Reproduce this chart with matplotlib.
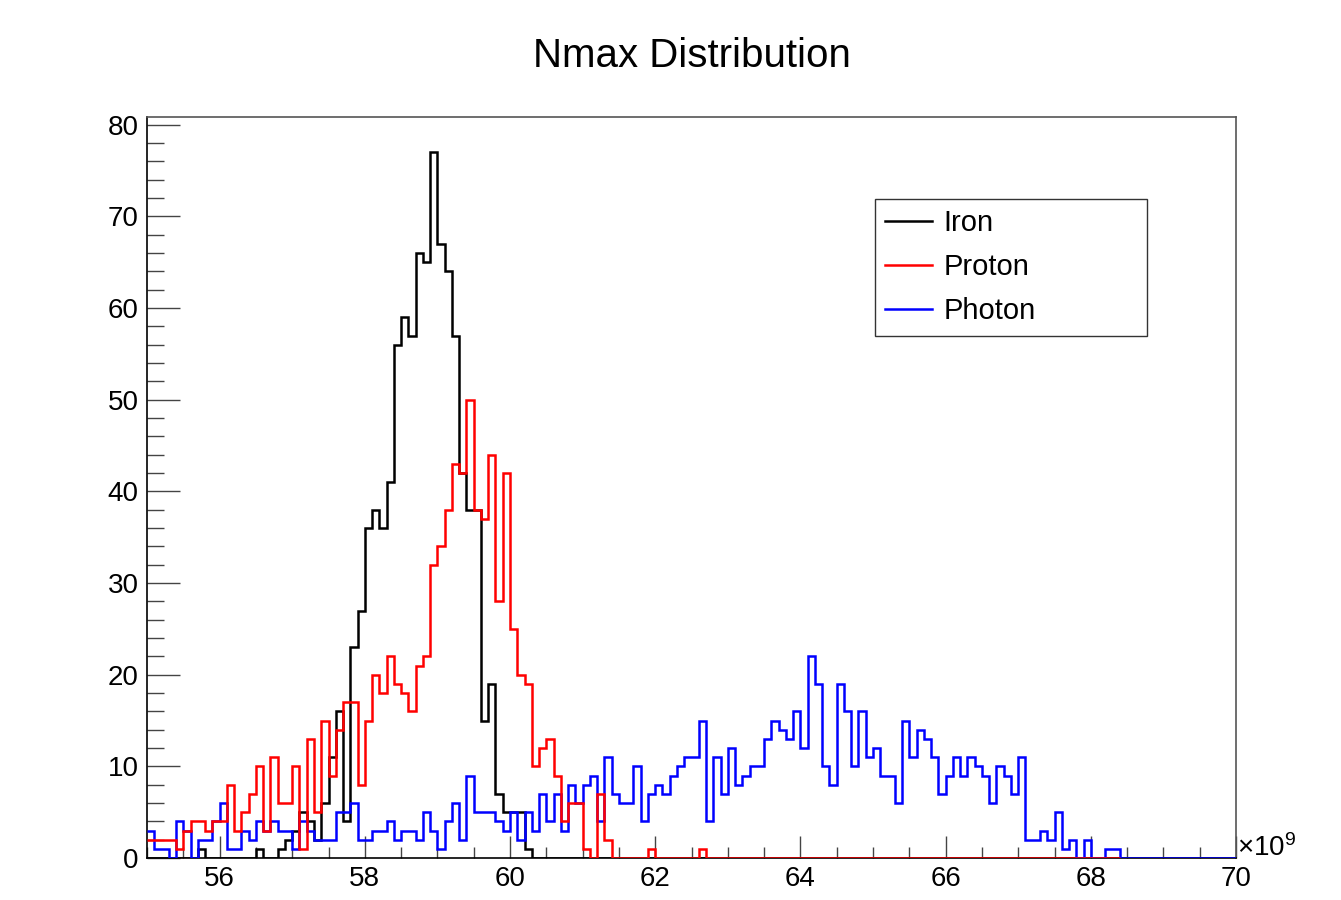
import numpy as np
import matplotlib
matplotlib.use("Agg")
import matplotlib.pyplot as plt
from matplotlib.ticker import MultipleLocator

plt.rcParams['font.family'] = ['Liberation Sans', 'DejaVu Sans']
plt.rcParams['mathtext.fontset'] = 'custom'
plt.rcParams['mathtext.rm'] = 'Liberation Sans'
plt.rcParams['mathtext.it'] = 'Liberation Sans'

# ---- data (bin counts, bin width 0.1 in units of 1e9, starting at 55) ----
x_start = 55.0
bin_width = 0.1

iron = [0, 0, 0, 0, 0, 0, 0, 1, 0, 0,
        0, 0, 0, 0, 0, 1, 0, 0, 1, 2,
        3, 5, 4, 2, 6, 11, 16, 4, 23, 27,
        36, 38, 36, 41, 56, 59, 57, 66, 65, 77,
        67, 64, 57, 42, 38, 38, 15, 19, 7, 5,
        5, 5, 1, 0, 0, 0, 0, 0, 0, 0,
        0, 0, 0, 0, 0, 0, 0, 0, 0, 0,
        0, 0, 0, 0, 0, 0, 0, 0, 0, 0,
        0, 0, 0, 0, 0, 0, 0, 0, 0, 0,
        0, 0, 0, 0, 0, 0, 0, 0, 0, 0,
        0, 0, 0, 0, 0, 0, 0, 0, 0, 0,
        0, 0, 0, 0, 0, 0, 0, 0, 0, 0,
        0, 0, 0, 0, 0, 0, 0, 0, 0, 0,
        0, 0, 0, 0, 0, 0, 0, 0, 0, 0,
        0, 0, 0, 0, 0, 0, 0, 0, 0, 0]

proton = [2, 2, 2, 2, 1, 3, 4, 4, 3, 4,
          4, 8, 3, 5, 7, 10, 3, 11, 6, 6,
          10, 1, 13, 5, 15, 9, 14, 17, 17, 8,
          15, 20, 18, 22, 19, 18, 16, 21, 22, 32,
          34, 38, 43, 42, 50, 38, 37, 44, 28, 42,
          25, 20, 19, 10, 12, 13, 9, 4, 6, 6,
          1, 0, 7, 2, 0, 0, 0, 0, 0, 1,
          0, 0, 0, 0, 0, 0, 1, 0, 0, 0,
          0, 0, 0, 0, 0, 0, 0, 0, 0, 0,
          0, 0, 0, 0, 0, 0, 0, 0, 0, 0,
          0, 0, 0, 0, 0, 0, 0, 0, 0, 0,
          0, 0, 0, 0, 0, 0, 0, 0, 0, 0,
          0, 0, 0, 0, 0, 0, 0, 0, 0, 0,
          0, 0, 0, 0]

photon = [3, 1, 1, 0, 4, 3, 0, 2, 2, 4,
          6, 1, 1, 3, 2, 4, 3, 4, 3, 3,
          1, 4, 3, 2, 2, 2, 5, 5, 6, 2,
          2, 3, 3, 4, 2, 3, 3, 2, 5, 3,
          1, 4, 6, 2, 9, 5, 5, 5, 4, 3,
          5, 2, 5, 3, 7, 4, 7, 3, 8, 6,
          8, 9, 4, 11, 7, 6, 6, 10, 4, 7,
          8, 7, 9, 10, 11, 11, 15, 4, 11, 7,
          12, 8, 9, 10, 10, 13, 15, 14, 13, 16,
          12, 22, 19, 10, 8, 19, 16, 10, 16, 11,
          12, 9, 9, 6, 15, 11, 14, 13, 11, 7,
          9, 11, 9, 11, 10, 9, 6, 10, 9, 7,
          11, 2, 2, 3, 2, 5, 1, 2, 0, 2,
          0, 0, 1, 1, 0, 0, 0, 0, 0, 0,
          0, 0, 0, 0, 0, 0, 0, 0, 0, 0]

series_names = ["Iron", "Proton", "Photon"]
series_colors = ["black", "#ff0000", "#0000ff"]
x_ticks = [56, 58, 60, 62, 64, 66, 68, 70]
y_ticks = [0, 10, 20, 30, 40, 50, 60, 70, 80]

W, H = 1341, 900
fig = plt.figure(figsize=(W / 100, H / 100), dpi=100)
L, R, T, B = 147, 1236, 117, 858
ax = fig.add_axes([L / W, 1 - B / H, (R - L) / W, (B - T) / H])

def edges(n):
    return x_start + bin_width * np.arange(n + 1)

data = [iron, proton, photon]
zorders = [2, 4, 3]
LW = 1.8
for vals, name, col, z in zip(data, series_names, series_colors, zorders):
    ax.stairs(vals, edges(len(vals)), color=col, lw=LW, label=name,
              zorder=z, baseline=None)

ax.set_xlim(55, 70)
ax.set_ylim(0, 1.05 * max(iron))

ax.set_xticks(x_ticks)
ax.set_yticks(y_ticks)
ax.xaxis.set_minor_locator(MultipleLocator(0.5))
ax.yaxis.set_minor_locator(MultipleLocator(2))
tick_col = '#444444'
ax.tick_params(axis='x', which='major', direction='in', length=16, width=1,
               color=tick_col, top=False, labelsize=20, pad=6)
ax.tick_params(axis='x', which='minor', direction='in', length=8, width=1,
               color=tick_col, top=False)
ax.tick_params(axis='y', which='major', direction='in', length=24, width=1,
               color=tick_col, right=False, labelsize=20, pad=6)
ax.tick_params(axis='y', which='minor', direction='in', length=12, width=1,
               color=tick_col, right=False)
for s in ax.spines.values():
    s.set_color('#555555')
    s.set_linewidth(1.2)
ax.spines['left'].set_color('black')
ax.spines['bottom'].set_color('black')

fig.text(0.5 * (L + R) / W, 1 - 56 / H, "Nmax Distribution",
         ha='center', va='center', fontsize=29)

fig.text(1237 / W, 1 - 848 / H, r"$\times$10$^{9}$", ha='left', va='center',
         fontsize=20)

leg = ax.legend(handles=[plt.Line2D([], [], color=c, lw=LW) for c in series_colors],
                labels=series_names, loc='upper left',
                bbox_to_anchor=((875 - L) / (R - L), 1 - (337 - T) / (B - T),
                                (1147 - 875) / (R - L), (337 - 199) / (B - T)),
                mode='expand', fontsize=21, frameon=True, fancybox=False,
                edgecolor='black', borderaxespad=0, handlelength=1.6,
                handletextpad=0.4, labelspacing=0.55, borderpad=0.35)
leg.get_frame().set_linewidth(1.0)

fig.savefig("out.png", dpi=100)
